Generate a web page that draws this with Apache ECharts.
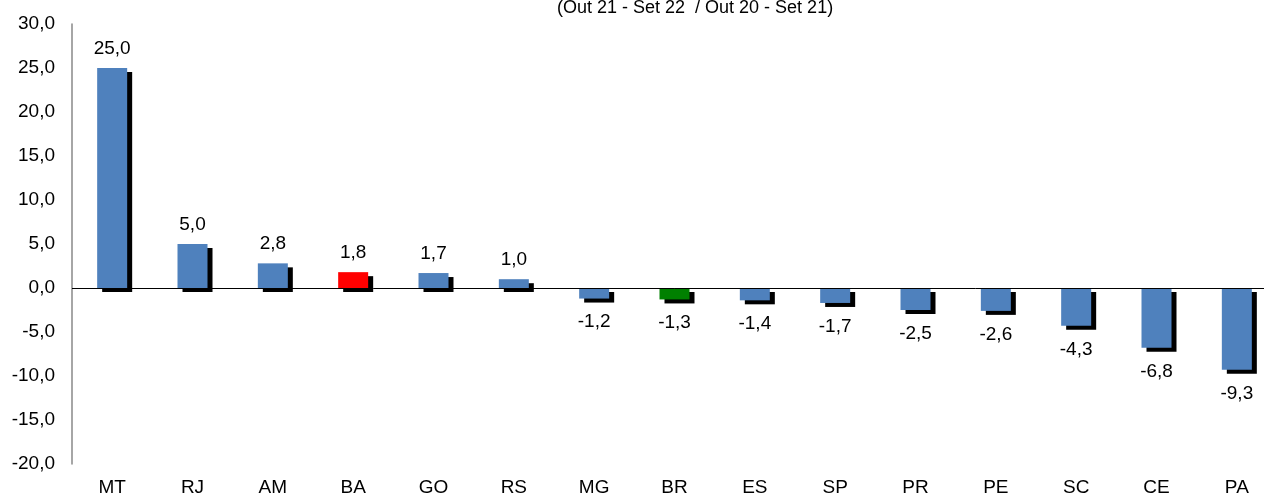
<!DOCTYPE html>
<html>
<head>
<meta charset="utf-8">
<script src="https://cdn.jsdelivr.net/npm/echarts@6/dist/echarts.min.js"></script>
<style>
  html, body { margin: 0; padding: 0; background: #fff; overflow: hidden; }
  #wrap { width: 1264px; height: 497px; overflow: hidden; }
  #chart { width: 1278px; height: 497px; }
</style>
</head>
<body>
<div id="wrap"><div id="chart"></div></div>
<script>
// Variação por UF (Out 21 - Set 22 / Out 20 - Set 21)
const categories = ['MT', 'RJ', 'AM', 'BA', 'GO', 'RS', 'MG', 'BR', 'ES', 'SP', 'PR', 'PE', 'SC', 'CE', 'PA'];
const values = [25.0, 5.0, 2.8, 1.8, 1.7, 1.0, -1.2, -1.3, -1.4, -1.7, -2.5, -2.6, -4.3, -6.8, -9.3];
const subtitle = '(Out 21 - Set 22  / Out 20 - Set 21)';
const yMin = -20, yMax = 30, yStep = 5;

const BLUE = '#4F81BD';
const highlight = { BA: '#FF0000', BR: '#008000' };
const fmt = v => v.toFixed(1).replace('.', ',');
const FONT = 'Liberation Sans, Arial, sans-serif';

const barData = values.map((v, i) => ({
  value: v,
  itemStyle: { color: highlight[categories[i]] || BLUE },
  label: { position: v >= 0 ? 'top' : 'bottom', distance: v >= 0 ? 10 : 14 }
}));

const chart = echarts.init(document.getElementById('chart'));
chart.setOption({
  animation: false,
  backgroundColor: '#fff',
  grid: { left: 72, right: 1, top: 24, bottom: 31, containLabel: false },
  graphic: [{
    type: 'text', left: 557, top: -1,
    style: { text: subtitle, font: '18px ' + FONT, fill: '#000' }
  }],
  xAxis: {
    type: 'category',
    data: categories,
    axisLine: { show: false },
    axisTick: { show: false },
    axisLabel: { color: '#000', fontSize: 19, fontFamily: FONT, margin: 14 },
    splitLine: { show: false }
  },
  yAxis: {
    type: 'value',
    min: yMin, max: yMax, interval: yStep,
    axisLine: { show: true, lineStyle: { color: '#888', width: 1.5 } },
    axisTick: { show: false },
    splitLine: { show: false },
    axisLabel: { color: '#000', fontSize: 19, fontFamily: FONT, margin: 17, formatter: fmt }
  },
  series: [{
    type: 'bar',
    data: barData,
    barWidth: 30,
    itemStyle: {
      shadowColor: '#000', shadowBlur: 0, shadowOffsetX: 5, shadowOffsetY: 4
    },
    label: {
      show: true, color: '#000', fontSize: 19, fontFamily: FONT,
      formatter: p => fmt(p.value)
    },
    markLine: {
      silent: true, symbol: 'none', label: { show: false },
      lineStyle: { color: '#000', width: 1, type: 'solid' },
      data: [{ yAxis: 0 }]
    },
    z: 2
  }]
});
</script>
</body>
</html>
